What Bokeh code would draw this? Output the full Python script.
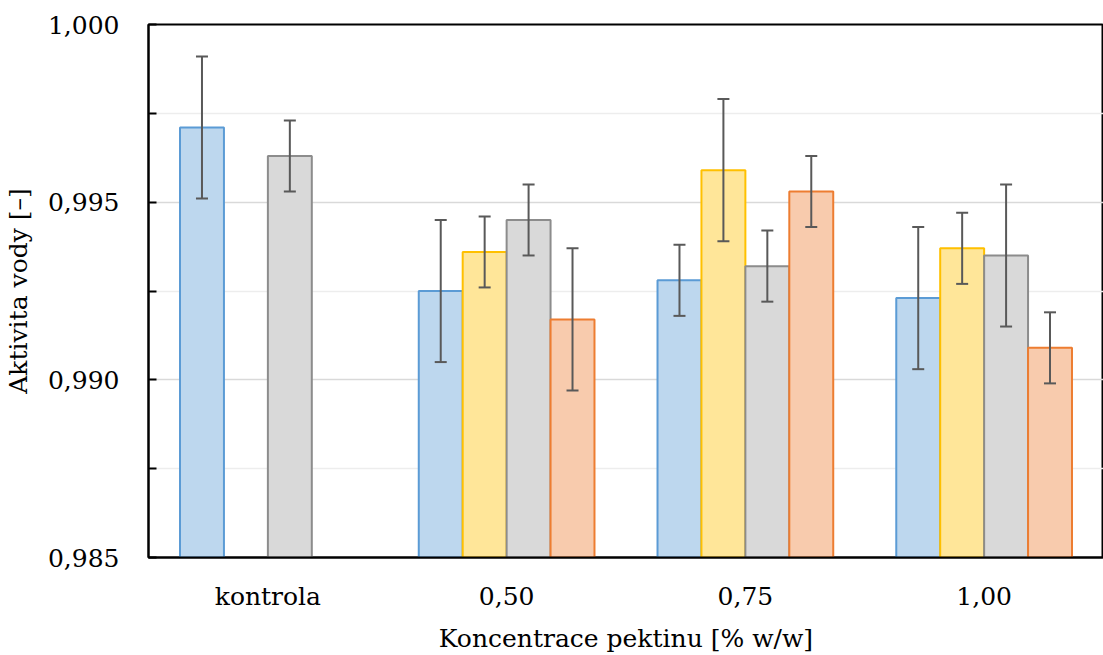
import math
from bokeh.plotting import figure
from bokeh.models import (ColumnDataSource, FactorRange, FixedTicker, Whisker,
                          TeeHead, Range1d)
from bokeh.transform import dodge
from bokeh.embed import file_html
from bokeh.resources import INLINE

categories = ["kontrola", "0,50", "0,75", "1,00"]
nan = float("nan")
blue_vals = [0.9971, 0.9925, 0.9928, 0.9923]
blue_err = [0.0020, 0.0020, 0.0010, 0.0020]
yellow_vals = [nan, 0.9936, 0.9959, 0.9937]
yellow_err = [nan, 0.0010, 0.0020, 0.0010]
grey_vals = [0.9963, 0.9945, 0.9932, 0.9935]
grey_err = [0.0010, 0.0010, 0.0010, 0.0020]
orange_vals = [nan, 0.9917, 0.9953, 0.9909]
orange_err = [nan, 0.0020, 0.0010, 0.0010]

y_ticks = [0.985, 0.990, 0.995, 1.000]
y_minor = [0.9875, 0.9925, 0.9975]
y_labels = {0.985: "0,985", 0.99: "0,990", 0.995: "0,995", 1.0: "1,000"}

FONT = "DejaVu Serif"
FS = "25px"

p = figure(x_range=FactorRange(*categories), y_range=Range1d(0.985, 1.000),
           width=1103, height=655, output_backend="svg", toolbar_location=None,
           min_border_left=148, min_border_right=0, min_border_top=24,
           min_border_bottom=98)

series = [
    (blue_vals, blue_err, "#BDD7EE", "#5B9BD5", -0.276),
    (yellow_vals, yellow_err, "#FFE699", "#FFC000", -0.092),
    (grey_vals, grey_err, "#D9D9D9", "#8C8C8C", 0.092),
    (orange_vals, orange_err, "#F8CBAD", "#ED7D31", 0.276),
]
W = 0.184
for vals, errs, fill, line, off in series:
    src = ColumnDataSource(dict(
        cat=categories, val=vals,
        upper=[v + e for v, e in zip(vals, errs)],
        lower=[v - e for v, e in zip(vals, errs)],
    ))
    p.vbar(x=dodge("cat", off, range=p.x_range), top="val", bottom=0.985,
           width=W, source=src, fill_color=fill, line_color=line, line_width=2)
    wh = Whisker(base=dodge("cat", off, range=p.x_range), upper="upper",
                 lower="lower", source=src, line_color="#595959", line_width=2,
                 level="overlay",
                 upper_head=TeeHead(size=12, line_color="#595959", line_width=2),
                 lower_head=TeeHead(size=12, line_color="#595959", line_width=2))
    p.add_layout(wh)

p.yaxis.ticker = FixedTicker(ticks=y_ticks, minor_ticks=y_minor)
p.yaxis.major_label_overrides = y_labels
p.yaxis.major_tick_in = 8
p.yaxis.major_tick_out = 0
p.yaxis.minor_tick_in = 8
p.yaxis.minor_tick_out = 0
p.yaxis.major_tick_line_color = "black"
p.yaxis.minor_tick_line_color = "black"
p.yaxis.major_tick_line_width = 2
p.yaxis.minor_tick_line_width = 2
p.yaxis.axis_line_color = "black"
p.yaxis.axis_line_width = 2
p.yaxis.major_label_standoff = 29
p.yaxis.axis_label = "Aktivita vody [–]"
p.yaxis.axis_label_standoff = 12

p.xaxis.axis_label = "Koncentrace pektinu [% w/w]"
p.xaxis.major_tick_line_color = None
p.xaxis.minor_tick_line_color = None
p.xaxis.axis_line_color = "black"
p.xaxis.axis_line_width = 2
p.xaxis.major_label_standoff = 18
p.xaxis.axis_label_standoff = 10

for ax in (p.xaxis, p.yaxis):
    ax.major_label_text_font = FONT
    ax.major_label_text_font_size = FS
    ax.major_label_text_color = "black"
    ax.axis_label_text_font = FONT
    ax.axis_label_text_font_size = FS
    ax.axis_label_text_font_style = "normal"
    ax.axis_label_text_color = "black"

p.xgrid.grid_line_color = None
p.ygrid.grid_line_color = "#D9D9D9"
p.ygrid.grid_line_width = 1.5
p.ygrid.minor_grid_line_color = "#EDEDED"
p.ygrid.minor_grid_line_width = 1.5
p.outline_line_color = "black"
p.outline_line_width = 2

open("out.html", "w").write(file_html(p, INLINE))
